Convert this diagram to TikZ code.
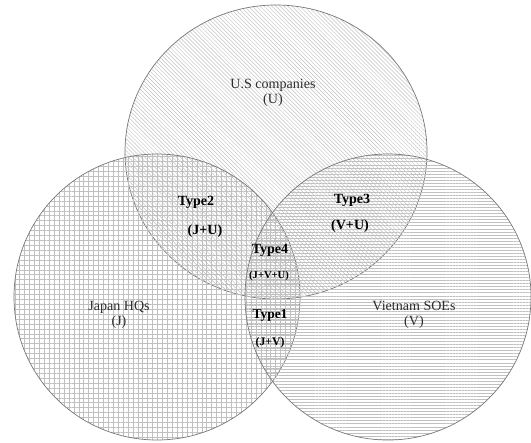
\documentclass[tikz,border=0pt]{standalone}
\usepackage{fontspec}
\setmainfont{Liberation Serif}
\definecolor{setline}{RGB}{120,120,120}
\definecolor{hatchgray}{RGB}{192,192,192}
\definecolor{labeltext}{RGB}{45,45,45}
\usetikzlibrary{patterns.meta}

\begin{document}
\begin{tikzpicture}[x=0.03cm, y=-0.03cm,
  setoutline/.style={draw=setline, line width=0.6pt},
  setname/.style={font=\fontsize{12}{13}\selectfont, text=labeltext, align=center, inner sep=1pt},
  typename/.style={font=\fontsize{12}{13}\selectfont\bfseries, text=black, inner sep=1pt},
  typecode/.style={font=\fontsize{11}{12}\selectfont\bfseries, text=black, inner sep=1pt}]
  \useasboundingbox (0,0) rectangle (531,442);

  % U.S companies (top set)
  \draw[setoutline, pattern={Lines[angle=-45, distance=2.4pt, line width=0.4pt]}, pattern color=hatchgray]
    (276,152) ellipse [x radius=151, y radius=147];
  % Japan HQs (left set)
  \draw[setoutline, pattern={Hatch[angle=0, distance=4.2pt, line width=0.35pt]}, pattern color=hatchgray]
    (157,297) circle [radius=143];
  % Vietnam SOEs (right set)
  \draw[setoutline, pattern={Lines[angle=0, distance=2.6pt, line width=0.45pt]}, pattern color=hatchgray]
    (388,297) circle [radius=143];

  % set names
  \node[setname] (usname) at (273,93) {U.S companies\\(U)};
  \node[setname] (jpname) at (119,315) {Japan HQs\\(J)};
  \node[setname] (vnname) at (414,315) {Vietnam SOEs\\(V)};

  % intersections
  \node[typename] (type2) at (196,202) {Type2};
  \node[typename] (code2) at (205,231) {(J+U)};
  \node[typename] (type3) at (352,200) {Type3};
  \node[typename] (code3) at (350,226) {(V+U)};
  \node[typename] (type4) at (270,250) {Type4};
  \node[typecode, font=\fontsize{9}{10}\selectfont\bfseries] (code4) at (269,276) {(J+V+U)};
  \node[typename, font=\fontsize{11.5}{12}\selectfont\bfseries] (type1) at (270,316) {Type1};
  \node[typecode, font=\fontsize{10}{11}\selectfont\bfseries] (code1) at (270,343) {(J+V)};
\end{tikzpicture}
\end{document}
